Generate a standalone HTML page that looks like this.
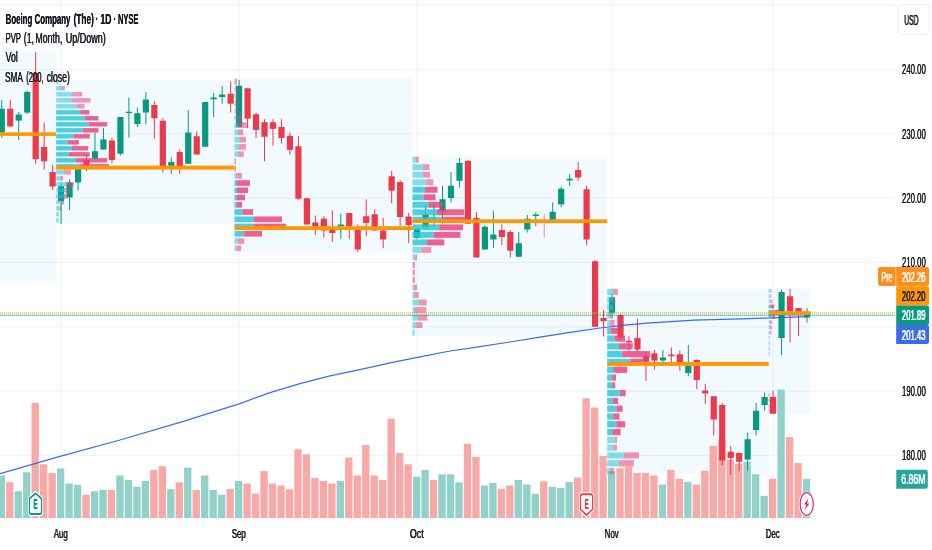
<!DOCTYPE html>
<html><head><meta charset="utf-8"><title>BA chart</title>
<style>html,body{margin:0;padding:0;background:#fff;width:932px;height:550px;overflow:hidden;font-family:"Liberation Sans",sans-serif}</style></head>
<body>
<svg width="932" height="550" viewBox="0 0 932 550" style="position:absolute;left:0;top:0;will-change:transform">
<rect width="932" height="550" fill="#ffffff"/>
<rect x="0" y="4.68" width="895.2" height="1" fill="#f1f2f4"/>
<rect x="0" y="69.00" width="895.2" height="1" fill="#f1f2f4"/>
<rect x="0" y="133.32" width="895.2" height="1" fill="#f1f2f4"/>
<rect x="0" y="197.64" width="895.2" height="1" fill="#f1f2f4"/>
<rect x="0" y="261.96" width="895.2" height="1" fill="#f1f2f4"/>
<rect x="0" y="326.28" width="895.2" height="1" fill="#f1f2f4"/>
<rect x="0" y="390.60" width="895.2" height="1" fill="#f1f2f4"/>
<rect x="0" y="454.92" width="895.2" height="1" fill="#f1f2f4"/>
<rect x="60.60" y="0" width="1" height="521" fill="#f1f2f4"/>
<rect x="238.60" y="0" width="1" height="521" fill="#f1f2f4"/>
<rect x="416.59" y="0" width="1" height="521" fill="#f1f2f4"/>
<rect x="611.54" y="0" width="1" height="521" fill="#f1f2f4"/>
<rect x="772.58" y="0" width="1" height="521" fill="#f1f2f4"/>
<rect x="0" y="51" width="56.2" height="231.7" fill="rgb(30,170,230)" fill-opacity="0.055"/>
<rect x="56.20" y="80.60" width="178.30" height="143.15" fill="rgb(30,170,230)" fill-opacity="0.055"/>
<rect x="234.50" y="78.00" width="178.00" height="173.75" fill="rgb(30,170,230)" fill-opacity="0.055"/>
<rect x="412.50" y="156.25" width="194.70" height="180.50" fill="rgb(30,170,230)" fill-opacity="0.055"/>
<rect x="607.20" y="288.80" width="161.55" height="185.70" fill="rgb(30,170,230)" fill-opacity="0.055"/>
<rect x="768.75" y="288.8" width="41.9" height="124.9" fill="rgb(30,170,230)" fill-opacity="0.055"/>
<rect x="-2.38" y="475.50" width="7.35" height="42.50" fill="#92d1c9"/>
<rect x="6.09" y="482.25" width="7.35" height="35.75" fill="#f7a9a7"/>
<rect x="14.57" y="491.25" width="7.35" height="26.75" fill="#92d1c9"/>
<rect x="23.05" y="472.25" width="7.35" height="45.75" fill="#92d1c9"/>
<rect x="31.52" y="403.00" width="7.35" height="115.00" fill="#f7a9a7"/>
<rect x="40.00" y="464.25" width="7.35" height="53.75" fill="#f7a9a7"/>
<rect x="48.47" y="473.00" width="7.35" height="45.00" fill="#f7a9a7"/>
<rect x="56.95" y="468.50" width="7.35" height="49.50" fill="#92d1c9"/>
<rect x="65.43" y="483.50" width="7.35" height="34.50" fill="#92d1c9"/>
<rect x="73.90" y="484.75" width="7.35" height="33.25" fill="#92d1c9"/>
<rect x="82.38" y="494.75" width="7.35" height="23.25" fill="#f7a9a7"/>
<rect x="90.85" y="491.25" width="7.35" height="26.75" fill="#92d1c9"/>
<rect x="99.33" y="490.00" width="7.35" height="28.00" fill="#92d1c9"/>
<rect x="107.81" y="490.00" width="7.35" height="28.00" fill="#f7a9a7"/>
<rect x="116.28" y="475.50" width="7.35" height="42.50" fill="#92d1c9"/>
<rect x="124.76" y="480.00" width="7.35" height="38.00" fill="#92d1c9"/>
<rect x="133.23" y="486.75" width="7.35" height="31.25" fill="#92d1c9"/>
<rect x="141.71" y="481.00" width="7.35" height="37.00" fill="#92d1c9"/>
<rect x="150.19" y="470.00" width="7.35" height="48.00" fill="#f7a9a7"/>
<rect x="158.66" y="466.25" width="7.35" height="51.75" fill="#f7a9a7"/>
<rect x="167.14" y="489.25" width="7.35" height="28.75" fill="#92d1c9"/>
<rect x="175.61" y="482.25" width="7.35" height="35.75" fill="#f7a9a7"/>
<rect x="184.09" y="467.50" width="7.35" height="50.50" fill="#92d1c9"/>
<rect x="192.57" y="490.00" width="7.35" height="28.00" fill="#f7a9a7"/>
<rect x="201.04" y="475.50" width="7.35" height="42.50" fill="#92d1c9"/>
<rect x="209.52" y="490.00" width="7.35" height="28.00" fill="#92d1c9"/>
<rect x="217.99" y="494.75" width="7.35" height="23.25" fill="#92d1c9"/>
<rect x="226.47" y="489.00" width="7.35" height="29.00" fill="#f7a9a7"/>
<rect x="234.95" y="481.00" width="7.35" height="37.00" fill="#92d1c9"/>
<rect x="243.42" y="483.50" width="7.35" height="34.50" fill="#f7a9a7"/>
<rect x="251.90" y="493.50" width="7.35" height="24.50" fill="#f7a9a7"/>
<rect x="260.37" y="471.00" width="7.35" height="47.00" fill="#f7a9a7"/>
<rect x="268.85" y="483.50" width="7.35" height="34.50" fill="#f7a9a7"/>
<rect x="277.33" y="485.50" width="7.35" height="32.50" fill="#f7a9a7"/>
<rect x="285.80" y="489.25" width="7.35" height="28.75" fill="#f7a9a7"/>
<rect x="294.28" y="449.25" width="7.35" height="68.75" fill="#f7a9a7"/>
<rect x="302.75" y="454.25" width="7.35" height="63.75" fill="#f7a9a7"/>
<rect x="311.23" y="478.00" width="7.35" height="40.00" fill="#f7a9a7"/>
<rect x="319.71" y="481.00" width="7.35" height="37.00" fill="#f7a9a7"/>
<rect x="328.18" y="483.50" width="7.35" height="34.50" fill="#f7a9a7"/>
<rect x="336.66" y="481.00" width="7.35" height="37.00" fill="#92d1c9"/>
<rect x="345.13" y="457.50" width="7.35" height="60.50" fill="#f7a9a7"/>
<rect x="353.61" y="475.50" width="7.35" height="42.50" fill="#f7a9a7"/>
<rect x="362.09" y="445.00" width="7.35" height="73.00" fill="#f7a9a7"/>
<rect x="370.56" y="475.50" width="7.35" height="42.50" fill="#f7a9a7"/>
<rect x="379.04" y="480.00" width="7.35" height="38.00" fill="#f7a9a7"/>
<rect x="387.51" y="418.75" width="7.35" height="99.25" fill="#f7a9a7"/>
<rect x="395.99" y="453.00" width="7.35" height="65.00" fill="#f7a9a7"/>
<rect x="404.47" y="464.25" width="7.35" height="53.75" fill="#f7a9a7"/>
<rect x="412.94" y="476.75" width="7.35" height="41.25" fill="#92d1c9"/>
<rect x="421.42" y="470.00" width="7.35" height="48.00" fill="#92d1c9"/>
<rect x="429.89" y="480.00" width="7.35" height="38.00" fill="#f7a9a7"/>
<rect x="438.37" y="474.25" width="7.35" height="43.75" fill="#92d1c9"/>
<rect x="446.85" y="474.25" width="7.35" height="43.75" fill="#92d1c9"/>
<rect x="455.32" y="482.25" width="7.35" height="35.75" fill="#92d1c9"/>
<rect x="463.80" y="443.75" width="7.35" height="74.25" fill="#f7a9a7"/>
<rect x="472.27" y="457.00" width="7.35" height="61.00" fill="#f7a9a7"/>
<rect x="480.75" y="485.50" width="7.35" height="32.50" fill="#92d1c9"/>
<rect x="489.23" y="483.00" width="7.35" height="35.00" fill="#92d1c9"/>
<rect x="497.70" y="488.75" width="7.35" height="29.25" fill="#f7a9a7"/>
<rect x="506.18" y="485.50" width="7.35" height="32.50" fill="#f7a9a7"/>
<rect x="514.65" y="480.00" width="7.35" height="38.00" fill="#92d1c9"/>
<rect x="523.13" y="484.50" width="7.35" height="33.50" fill="#92d1c9"/>
<rect x="531.61" y="493.75" width="7.35" height="24.25" fill="#92d1c9"/>
<rect x="540.08" y="481.25" width="7.35" height="36.75" fill="#f7a9a7"/>
<rect x="548.56" y="486.75" width="7.35" height="31.25" fill="#92d1c9"/>
<rect x="557.03" y="488.00" width="7.35" height="30.00" fill="#92d1c9"/>
<rect x="565.51" y="482.00" width="7.35" height="36.00" fill="#92d1c9"/>
<rect x="573.99" y="477.50" width="7.35" height="40.50" fill="#f7a9a7"/>
<rect x="582.46" y="398.25" width="7.35" height="119.75" fill="#f7a9a7"/>
<rect x="590.94" y="407.50" width="7.35" height="110.50" fill="#f7a9a7"/>
<rect x="599.41" y="456.00" width="7.35" height="62.00" fill="#f7a9a7"/>
<rect x="607.89" y="471.25" width="7.35" height="46.75" fill="#92d1c9"/>
<rect x="616.37" y="468.40" width="7.35" height="49.60" fill="#f7a9a7"/>
<rect x="624.84" y="466.25" width="7.35" height="51.75" fill="#f7a9a7"/>
<rect x="633.32" y="473.00" width="7.35" height="45.00" fill="#f7a9a7"/>
<rect x="641.79" y="473.00" width="7.35" height="45.00" fill="#f7a9a7"/>
<rect x="650.27" y="475.50" width="7.35" height="42.50" fill="#f7a9a7"/>
<rect x="658.75" y="484.50" width="7.35" height="33.50" fill="#92d1c9"/>
<rect x="667.22" y="470.00" width="7.35" height="48.00" fill="#f7a9a7"/>
<rect x="675.70" y="478.75" width="7.35" height="39.25" fill="#f7a9a7"/>
<rect x="684.17" y="482.00" width="7.35" height="36.00" fill="#92d1c9"/>
<rect x="692.65" y="484.50" width="7.35" height="33.50" fill="#f7a9a7"/>
<rect x="701.13" y="470.75" width="7.35" height="47.25" fill="#f7a9a7"/>
<rect x="709.60" y="445.75" width="7.35" height="72.25" fill="#f7a9a7"/>
<rect x="718.08" y="440.00" width="7.35" height="78.00" fill="#f7a9a7"/>
<rect x="726.55" y="459.50" width="7.35" height="58.50" fill="#f7a9a7"/>
<rect x="735.03" y="463.75" width="7.35" height="54.25" fill="#f7a9a7"/>
<rect x="743.51" y="462.00" width="7.35" height="56.00" fill="#92d1c9"/>
<rect x="751.98" y="474.25" width="7.35" height="43.75" fill="#92d1c9"/>
<rect x="760.46" y="495.75" width="7.35" height="22.25" fill="#92d1c9"/>
<rect x="768.93" y="478.75" width="7.35" height="39.25" fill="#f7a9a7"/>
<rect x="777.41" y="389.50" width="7.35" height="128.50" fill="#92d1c9"/>
<rect x="785.89" y="437.00" width="7.35" height="81.00" fill="#f7a9a7"/>
<rect x="794.36" y="463.00" width="7.35" height="55.00" fill="#f7a9a7"/>
<rect x="802.84" y="478.75" width="7.35" height="39.25" fill="#92d1c9"/>
<rect x="1.27" y="100.00" width="1" height="37.70" fill="#089981"/>
<rect x="-1.33" y="108.75" width="6.2" height="23.75" fill="#089981"/>
<rect x="9.74" y="99.70" width="1" height="26.80" fill="#ea3a4c"/>
<rect x="7.14" y="108.75" width="6.2" height="17.75" fill="#ea3a4c"/>
<rect x="18.22" y="112.00" width="1" height="28.00" fill="#089981"/>
<rect x="15.62" y="114.50" width="6.2" height="6.10" fill="#089981"/>
<rect x="26.70" y="90.60" width="1" height="23.30" fill="#089981"/>
<rect x="24.10" y="91.90" width="6.2" height="20.70" fill="#089981"/>
<rect x="35.17" y="52.20" width="1" height="111.55" fill="#ea3a4c"/>
<rect x="32.57" y="73.00" width="6.2" height="86.25" fill="#ea3a4c"/>
<rect x="43.65" y="122.50" width="1" height="47.00" fill="#ea3a4c"/>
<rect x="41.05" y="147.00" width="6.2" height="14.25" fill="#ea3a4c"/>
<rect x="52.12" y="165.00" width="1" height="25.00" fill="#ea3a4c"/>
<rect x="49.52" y="172.00" width="6.2" height="14.50" fill="#ea3a4c"/>
<rect x="60.60" y="182.50" width="1" height="41.25" fill="#089981"/>
<rect x="58.00" y="186.25" width="6.2" height="15.00" fill="#089981"/>
<rect x="69.08" y="179.50" width="1" height="30.50" fill="#089981"/>
<rect x="66.48" y="182.50" width="6.2" height="15.00" fill="#089981"/>
<rect x="77.55" y="166.00" width="1" height="24.50" fill="#089981"/>
<rect x="74.95" y="169.00" width="6.2" height="13.50" fill="#089981"/>
<rect x="86.03" y="155.00" width="1" height="16.25" fill="#ea3a4c"/>
<rect x="83.43" y="160.00" width="6.2" height="5.00" fill="#ea3a4c"/>
<rect x="94.50" y="132.50" width="1" height="26.25" fill="#089981"/>
<rect x="91.90" y="151.25" width="6.2" height="7.50" fill="#089981"/>
<rect x="102.98" y="128.00" width="1" height="21.50" fill="#089981"/>
<rect x="100.38" y="139.50" width="6.2" height="10.00" fill="#089981"/>
<rect x="111.46" y="138.00" width="1" height="25.00" fill="#ea3a4c"/>
<rect x="108.86" y="140.50" width="6.2" height="19.50" fill="#ea3a4c"/>
<rect x="119.93" y="117.00" width="1" height="38.50" fill="#089981"/>
<rect x="117.33" y="117.00" width="6.2" height="36.75" fill="#089981"/>
<rect x="128.41" y="97.50" width="1" height="40.00" fill="#089981"/>
<rect x="125.81" y="111.75" width="6.2" height="1.25" fill="#089981"/>
<rect x="136.88" y="107.50" width="1" height="19.50" fill="#089981"/>
<rect x="134.28" y="113.25" width="6.2" height="10.75" fill="#089981"/>
<rect x="145.36" y="92.00" width="1" height="32.50" fill="#089981"/>
<rect x="142.76" y="99.50" width="6.2" height="13.00" fill="#089981"/>
<rect x="153.84" y="101.25" width="1" height="37.50" fill="#ea3a4c"/>
<rect x="151.24" y="105.00" width="6.2" height="13.25" fill="#ea3a4c"/>
<rect x="162.31" y="118.00" width="1" height="54.50" fill="#ea3a4c"/>
<rect x="159.71" y="120.75" width="6.2" height="45.50" fill="#ea3a4c"/>
<rect x="170.79" y="157.50" width="1" height="16.25" fill="#089981"/>
<rect x="168.19" y="162.00" width="6.2" height="4.25" fill="#089981"/>
<rect x="179.26" y="149.25" width="1" height="24.50" fill="#ea3a4c"/>
<rect x="176.66" y="152.00" width="6.2" height="14.25" fill="#ea3a4c"/>
<rect x="187.74" y="110.00" width="1" height="53.75" fill="#089981"/>
<rect x="185.14" y="132.50" width="6.2" height="31.25" fill="#089981"/>
<rect x="196.22" y="131.25" width="1" height="23.25" fill="#ea3a4c"/>
<rect x="193.62" y="136.25" width="6.2" height="18.25" fill="#ea3a4c"/>
<rect x="204.69" y="102.00" width="1" height="44.75" fill="#089981"/>
<rect x="202.09" y="102.00" width="6.2" height="44.75" fill="#089981"/>
<rect x="213.17" y="93.00" width="1" height="24.00" fill="#089981"/>
<rect x="210.57" y="97.50" width="6.2" height="1.75" fill="#089981"/>
<rect x="221.64" y="85.75" width="1" height="18.00" fill="#089981"/>
<rect x="219.04" y="94.50" width="6.2" height="2.50" fill="#089981"/>
<rect x="230.12" y="81.25" width="1" height="31.25" fill="#ea3a4c"/>
<rect x="227.52" y="93.75" width="6.2" height="10.00" fill="#ea3a4c"/>
<rect x="238.60" y="80.00" width="1" height="47.00" fill="#089981"/>
<rect x="236.00" y="85.75" width="6.2" height="41.25" fill="#089981"/>
<rect x="247.07" y="88.25" width="1" height="40.05" fill="#ea3a4c"/>
<rect x="244.47" y="88.25" width="6.2" height="30.35" fill="#ea3a4c"/>
<rect x="255.55" y="113.00" width="1" height="24.90" fill="#ea3a4c"/>
<rect x="252.95" y="114.30" width="6.2" height="15.60" fill="#ea3a4c"/>
<rect x="264.02" y="119.20" width="1" height="42.05" fill="#ea3a4c"/>
<rect x="261.42" y="122.20" width="6.2" height="14.60" fill="#ea3a4c"/>
<rect x="272.50" y="119.20" width="1" height="26.40" fill="#ea3a4c"/>
<rect x="269.90" y="122.20" width="6.2" height="6.70" fill="#ea3a4c"/>
<rect x="280.98" y="119.20" width="1" height="24.30" fill="#ea3a4c"/>
<rect x="278.38" y="127.00" width="6.2" height="11.00" fill="#ea3a4c"/>
<rect x="289.45" y="132.50" width="1" height="22.00" fill="#ea3a4c"/>
<rect x="286.85" y="135.80" width="6.2" height="14.00" fill="#ea3a4c"/>
<rect x="297.93" y="135.90" width="1" height="64.10" fill="#ea3a4c"/>
<rect x="295.33" y="146.25" width="6.2" height="52.50" fill="#ea3a4c"/>
<rect x="306.40" y="198.25" width="1" height="26.25" fill="#ea3a4c"/>
<rect x="303.80" y="198.25" width="6.2" height="26.25" fill="#ea3a4c"/>
<rect x="314.88" y="215.50" width="1" height="19.50" fill="#ea3a4c"/>
<rect x="312.28" y="222.50" width="6.2" height="5.00" fill="#ea3a4c"/>
<rect x="323.36" y="216.25" width="1" height="21.25" fill="#ea3a4c"/>
<rect x="320.76" y="218.75" width="6.2" height="11.75" fill="#ea3a4c"/>
<rect x="331.83" y="210.50" width="1" height="31.25" fill="#ea3a4c"/>
<rect x="329.23" y="229.80" width="6.2" height="3.20" fill="#ea3a4c"/>
<rect x="340.31" y="213.75" width="1" height="25.00" fill="#089981"/>
<rect x="337.71" y="224.50" width="6.2" height="1.75" fill="#089981"/>
<rect x="348.78" y="213.00" width="1" height="25.75" fill="#ea3a4c"/>
<rect x="346.18" y="213.00" width="6.2" height="13.25" fill="#ea3a4c"/>
<rect x="357.26" y="224.50" width="1" height="27.50" fill="#ea3a4c"/>
<rect x="354.66" y="229.50" width="6.2" height="20.00" fill="#ea3a4c"/>
<rect x="365.74" y="199.25" width="1" height="37.00" fill="#ea3a4c"/>
<rect x="363.14" y="216.25" width="6.2" height="6.75" fill="#ea3a4c"/>
<rect x="374.21" y="209.25" width="1" height="21.25" fill="#ea3a4c"/>
<rect x="371.61" y="214.25" width="6.2" height="16.25" fill="#ea3a4c"/>
<rect x="382.69" y="218.00" width="1" height="30.25" fill="#ea3a4c"/>
<rect x="380.09" y="230.50" width="6.2" height="9.00" fill="#ea3a4c"/>
<rect x="391.16" y="170.75" width="1" height="32.50" fill="#ea3a4c"/>
<rect x="388.56" y="176.25" width="6.2" height="14.50" fill="#ea3a4c"/>
<rect x="399.64" y="180.00" width="1" height="46.00" fill="#ea3a4c"/>
<rect x="397.04" y="182.00" width="6.2" height="35.00" fill="#ea3a4c"/>
<rect x="408.12" y="212.75" width="1" height="30.25" fill="#ea3a4c"/>
<rect x="405.52" y="216.50" width="6.2" height="8.50" fill="#ea3a4c"/>
<rect x="416.59" y="227.00" width="1" height="12.00" fill="#089981"/>
<rect x="413.99" y="229.00" width="6.2" height="9.00" fill="#089981"/>
<rect x="425.07" y="205.75" width="1" height="21.75" fill="#089981"/>
<rect x="422.47" y="214.50" width="6.2" height="13.00" fill="#089981"/>
<rect x="433.54" y="205.00" width="1" height="22.00" fill="#089981"/>
<rect x="430.94" y="218.50" width="6.2" height="1.50" fill="#089981"/>
<rect x="442.02" y="185.75" width="1" height="37.75" fill="#089981"/>
<rect x="439.42" y="199.25" width="6.2" height="12.00" fill="#089981"/>
<rect x="450.50" y="172.00" width="1" height="30.50" fill="#089981"/>
<rect x="447.90" y="185.75" width="6.2" height="12.25" fill="#089981"/>
<rect x="458.97" y="158.00" width="1" height="29.50" fill="#089981"/>
<rect x="456.37" y="163.00" width="6.2" height="17.75" fill="#089981"/>
<rect x="467.45" y="160.75" width="1" height="63.00" fill="#ea3a4c"/>
<rect x="464.85" y="160.75" width="6.2" height="63.00" fill="#ea3a4c"/>
<rect x="475.92" y="212.00" width="1" height="45.50" fill="#ea3a4c"/>
<rect x="473.32" y="218.00" width="6.2" height="39.50" fill="#ea3a4c"/>
<rect x="484.40" y="225.50" width="1" height="24.00" fill="#089981"/>
<rect x="481.80" y="226.75" width="6.2" height="22.75" fill="#089981"/>
<rect x="492.88" y="210.75" width="1" height="37.25" fill="#089981"/>
<rect x="490.28" y="234.50" width="6.2" height="5.00" fill="#089981"/>
<rect x="501.35" y="224.50" width="1" height="20.50" fill="#ea3a4c"/>
<rect x="498.75" y="230.00" width="6.2" height="7.00" fill="#ea3a4c"/>
<rect x="509.83" y="230.00" width="1" height="27.50" fill="#ea3a4c"/>
<rect x="507.23" y="232.00" width="6.2" height="18.75" fill="#ea3a4c"/>
<rect x="518.30" y="232.00" width="1" height="24.75" fill="#089981"/>
<rect x="515.70" y="243.25" width="6.2" height="13.50" fill="#089981"/>
<rect x="526.78" y="215.00" width="1" height="17.50" fill="#089981"/>
<rect x="524.18" y="218.75" width="6.2" height="10.75" fill="#089981"/>
<rect x="535.26" y="212.50" width="1" height="13.75" fill="#089981"/>
<rect x="532.66" y="214.50" width="6.2" height="1.50" fill="#089981"/>
<rect x="543.73" y="213.75" width="1" height="23.75" fill="#ea3a4c" fill-opacity="0.55"/>
<rect x="541.13" y="221.00" width="6.2" height="1.00" fill="#ea3a4c"/>
<rect x="552.21" y="202.50" width="1" height="17.50" fill="#089981"/>
<rect x="549.61" y="211.75" width="6.2" height="8.25" fill="#089981"/>
<rect x="560.68" y="186.75" width="1" height="20.25" fill="#089981"/>
<rect x="558.08" y="188.75" width="6.2" height="15.75" fill="#089981"/>
<rect x="569.16" y="174.25" width="1" height="11.50" fill="#089981"/>
<rect x="566.56" y="178.75" width="6.2" height="1.75" fill="#089981"/>
<rect x="577.64" y="162.00" width="1" height="18.75" fill="#ea3a4c"/>
<rect x="575.04" y="170.00" width="6.2" height="7.50" fill="#ea3a4c"/>
<rect x="586.11" y="185.75" width="1" height="59.75" fill="#ea3a4c"/>
<rect x="583.51" y="189.25" width="6.2" height="50.25" fill="#ea3a4c"/>
<rect x="594.59" y="260.00" width="1" height="66.75" fill="#ea3a4c"/>
<rect x="591.99" y="261.25" width="6.2" height="65.50" fill="#ea3a4c"/>
<rect x="603.06" y="310.00" width="1" height="26.50" fill="#ea3a4c"/>
<rect x="600.46" y="318.00" width="6.2" height="3.25" fill="#ea3a4c"/>
<rect x="611.54" y="293.75" width="1" height="25.00" fill="#089981"/>
<rect x="608.94" y="297.50" width="6.2" height="15.75" fill="#089981"/>
<rect x="620.02" y="313.75" width="1" height="26.25" fill="#ea3a4c"/>
<rect x="617.42" y="315.00" width="6.2" height="22.75" fill="#ea3a4c"/>
<rect x="628.49" y="336.25" width="1" height="13.75" fill="#ea3a4c"/>
<rect x="625.89" y="340.75" width="6.2" height="1.75" fill="#ea3a4c"/>
<rect x="636.97" y="318.75" width="1" height="32.50" fill="#ea3a4c"/>
<rect x="634.37" y="338.00" width="6.2" height="11.50" fill="#ea3a4c"/>
<rect x="645.44" y="353.75" width="1" height="27.00" fill="#ea3a4c"/>
<rect x="642.84" y="356.25" width="6.2" height="5.00" fill="#ea3a4c"/>
<rect x="653.92" y="350.00" width="1" height="19.50" fill="#ea3a4c"/>
<rect x="651.32" y="353.25" width="6.2" height="7.25" fill="#ea3a4c"/>
<rect x="662.40" y="350.00" width="1" height="12.00" fill="#089981"/>
<rect x="659.80" y="357.50" width="6.2" height="3.00" fill="#089981"/>
<rect x="670.87" y="347.50" width="1" height="18.75" fill="#ea3a4c"/>
<rect x="668.27" y="354.50" width="6.2" height="1.75" fill="#ea3a4c"/>
<rect x="679.35" y="350.50" width="1" height="20.25" fill="#ea3a4c"/>
<rect x="676.75" y="354.25" width="6.2" height="7.75" fill="#ea3a4c"/>
<rect x="687.82" y="345.00" width="1" height="31.25" fill="#089981"/>
<rect x="685.22" y="365.50" width="6.2" height="7.50" fill="#089981"/>
<rect x="696.30" y="359.25" width="1" height="29.75" fill="#ea3a4c"/>
<rect x="693.70" y="360.00" width="6.2" height="20.00" fill="#ea3a4c"/>
<rect x="704.78" y="383.75" width="1" height="20.00" fill="#ea3a4c"/>
<rect x="702.18" y="390.50" width="6.2" height="3.00" fill="#ea3a4c"/>
<rect x="713.25" y="396.25" width="1" height="39.25" fill="#ea3a4c"/>
<rect x="710.65" y="396.25" width="6.2" height="23.25" fill="#ea3a4c"/>
<rect x="721.73" y="403.00" width="1" height="62.00" fill="#ea3a4c"/>
<rect x="719.13" y="405.00" width="6.2" height="55.50" fill="#ea3a4c"/>
<rect x="730.20" y="446.25" width="1" height="28.75" fill="#ea3a4c"/>
<rect x="727.60" y="451.75" width="6.2" height="6.25" fill="#ea3a4c"/>
<rect x="738.68" y="453.00" width="1" height="18.25" fill="#ea3a4c"/>
<rect x="736.08" y="453.00" width="6.2" height="8.75" fill="#ea3a4c"/>
<rect x="747.16" y="432.50" width="1" height="38.00" fill="#089981"/>
<rect x="744.56" y="439.25" width="6.2" height="20.25" fill="#089981"/>
<rect x="755.63" y="403.00" width="1" height="32.50" fill="#089981"/>
<rect x="753.03" y="410.75" width="6.2" height="19.25" fill="#089981"/>
<rect x="764.11" y="392.50" width="1" height="18.25" fill="#089981"/>
<rect x="761.51" y="397.00" width="6.2" height="8.00" fill="#089981"/>
<rect x="772.58" y="390.50" width="1" height="23.25" fill="#ea3a4c"/>
<rect x="769.98" y="397.00" width="6.2" height="16.75" fill="#ea3a4c"/>
<rect x="781.06" y="289.50" width="1" height="65.50" fill="#089981"/>
<rect x="778.46" y="292.00" width="6.2" height="46.00" fill="#089981"/>
<rect x="789.54" y="288.75" width="1" height="53.75" fill="#ea3a4c"/>
<rect x="786.94" y="296.25" width="6.2" height="15.00" fill="#ea3a4c"/>
<rect x="798.01" y="308.00" width="1" height="28.25" fill="#ea3a4c"/>
<rect x="795.41" y="308.00" width="6.2" height="4.50" fill="#ea3a4c"/>
<rect x="806.49" y="308.00" width="1" height="14.50" fill="#089981"/>
<rect x="803.89" y="312.50" width="6.2" height="5.00" fill="#089981"/>
<polyline points="-3,474.5 0,473.6 60,456.3 120,440 180,422.3 240,403.6 270,392.6 300,383.6 330,375.9 360,369.7 390,362.9 420,356.8 450,351 480,346.6 510,342 540,337.2 570,332.3 600,328.0 625,325.2 647,323.1 694,320.2 742,318.9 765,318.1 807,316.7" fill="none" stroke="#2a60f0" stroke-width="1.2" stroke-opacity="0.92" stroke-linejoin="round"/>
<rect x="56.20" y="80.10" width="1.20" height="4.40" fill="rgb(38,198,218)" fill-opacity="0.55"/>
<rect x="57.40" y="80.10" width="1.00" height="4.40" fill="rgb(236,64,122)" fill-opacity="0.55"/>
<rect x="56.20" y="86.10" width="5.60" height="4.40" fill="rgb(38,198,218)" fill-opacity="0.55"/>
<rect x="61.80" y="86.10" width="3.00" height="4.40" fill="rgb(236,64,122)" fill-opacity="0.55"/>
<rect x="56.20" y="92.10" width="16.00" height="4.40" fill="rgb(38,198,218)" fill-opacity="0.55"/>
<rect x="72.20" y="92.10" width="10.00" height="4.40" fill="rgb(236,64,122)" fill-opacity="0.55"/>
<rect x="56.20" y="98.10" width="15.00" height="4.40" fill="rgb(38,198,218)" fill-opacity="0.55"/>
<rect x="71.20" y="98.10" width="19.30" height="4.40" fill="rgb(236,64,122)" fill-opacity="0.55"/>
<rect x="56.20" y="104.10" width="20.25" height="4.40" fill="rgb(38,198,218)" fill-opacity="0.55"/>
<rect x="76.45" y="104.10" width="8.00" height="4.40" fill="rgb(236,64,122)" fill-opacity="0.55"/>
<rect x="56.20" y="110.10" width="24.00" height="4.40" fill="rgb(38,198,218)" fill-opacity="0.82"/>
<rect x="80.20" y="110.10" width="9.00" height="4.40" fill="rgb(236,64,122)" fill-opacity="0.82"/>
<rect x="56.20" y="116.10" width="28.50" height="4.40" fill="rgb(38,198,218)" fill-opacity="0.82"/>
<rect x="84.70" y="116.10" width="13.75" height="4.40" fill="rgb(236,64,122)" fill-opacity="0.82"/>
<rect x="56.20" y="122.10" width="32.75" height="4.40" fill="rgb(38,198,218)" fill-opacity="0.82"/>
<rect x="88.95" y="122.10" width="18.25" height="4.40" fill="rgb(236,64,122)" fill-opacity="0.82"/>
<rect x="56.20" y="128.10" width="26.50" height="4.40" fill="rgb(38,198,218)" fill-opacity="0.82"/>
<rect x="82.70" y="128.10" width="15.75" height="4.40" fill="rgb(236,64,122)" fill-opacity="0.82"/>
<rect x="56.20" y="134.10" width="17.75" height="4.40" fill="rgb(38,198,218)" fill-opacity="0.82"/>
<rect x="73.95" y="134.10" width="15.75" height="4.40" fill="rgb(236,64,122)" fill-opacity="0.82"/>
<rect x="56.20" y="140.10" width="11.50" height="4.40" fill="rgb(38,198,218)" fill-opacity="0.82"/>
<rect x="67.70" y="140.10" width="11.25" height="4.40" fill="rgb(236,64,122)" fill-opacity="0.82"/>
<rect x="56.20" y="146.10" width="15.75" height="4.40" fill="rgb(38,198,218)" fill-opacity="0.82"/>
<rect x="71.95" y="146.10" width="16.25" height="4.40" fill="rgb(236,64,122)" fill-opacity="0.82"/>
<rect x="56.20" y="152.10" width="12.25" height="4.40" fill="rgb(38,198,218)" fill-opacity="0.82"/>
<rect x="68.45" y="152.10" width="21.25" height="4.40" fill="rgb(236,64,122)" fill-opacity="0.82"/>
<rect x="56.20" y="158.10" width="19.75" height="4.40" fill="rgb(38,198,218)" fill-opacity="0.82"/>
<rect x="75.95" y="158.10" width="31.25" height="4.40" fill="rgb(236,64,122)" fill-opacity="0.82"/>
<rect x="56.20" y="164.10" width="23.50" height="4.40" fill="rgb(38,198,218)" fill-opacity="0.82"/>
<rect x="79.70" y="164.10" width="29.25" height="4.40" fill="rgb(236,64,122)" fill-opacity="0.82"/>
<rect x="56.20" y="170.10" width="7.75" height="4.40" fill="rgb(38,198,218)" fill-opacity="0.55"/>
<rect x="63.95" y="170.10" width="7.00" height="4.40" fill="rgb(236,64,122)" fill-opacity="0.55"/>
<rect x="56.20" y="176.10" width="4.00" height="4.40" fill="rgb(38,198,218)" fill-opacity="0.55"/>
<rect x="60.20" y="176.10" width="3.00" height="4.40" fill="rgb(236,64,122)" fill-opacity="0.55"/>
<rect x="56.20" y="182.10" width="9.50" height="4.40" fill="rgb(38,198,218)" fill-opacity="0.55"/>
<rect x="65.70" y="182.10" width="8.00" height="4.40" fill="rgb(236,64,122)" fill-opacity="0.55"/>
<rect x="56.20" y="188.10" width="8.50" height="4.40" fill="rgb(38,198,218)" fill-opacity="0.55"/>
<rect x="64.70" y="188.10" width="3.50" height="4.40" fill="rgb(236,64,122)" fill-opacity="0.55"/>
<rect x="56.20" y="194.10" width="7.75" height="4.40" fill="rgb(38,198,218)" fill-opacity="0.55"/>
<rect x="63.95" y="194.10" width="3.75" height="4.40" fill="rgb(236,64,122)" fill-opacity="0.55"/>
<rect x="56.20" y="200.10" width="5.25" height="4.40" fill="rgb(38,198,218)" fill-opacity="0.55"/>
<rect x="61.45" y="200.10" width="2.50" height="4.40" fill="rgb(236,64,122)" fill-opacity="0.55"/>
<rect x="56.20" y="206.10" width="4.00" height="4.40" fill="rgb(38,198,218)" fill-opacity="0.55"/>
<rect x="60.20" y="206.10" width="1.50" height="4.40" fill="rgb(236,64,122)" fill-opacity="0.55"/>
<rect x="56.20" y="212.10" width="2.50" height="4.40" fill="rgb(38,198,218)" fill-opacity="0.55"/>
<rect x="56.20" y="218.10" width="2.50" height="4.40" fill="rgb(38,198,218)" fill-opacity="0.55"/>
<rect x="234.50" y="78.90" width="2.40" height="5.64" fill="rgb(236,64,122)" fill-opacity="0.55"/>
<rect x="234.50" y="86.14" width="1.50" height="5.64" fill="rgb(38,198,218)" fill-opacity="0.55"/>
<rect x="236.00" y="86.14" width="1.70" height="5.64" fill="rgb(236,64,122)" fill-opacity="0.55"/>
<rect x="234.50" y="93.38" width="1.50" height="5.64" fill="rgb(38,198,218)" fill-opacity="0.55"/>
<rect x="236.00" y="93.38" width="1.70" height="5.64" fill="rgb(236,64,122)" fill-opacity="0.55"/>
<rect x="234.50" y="100.62" width="1.50" height="5.64" fill="rgb(38,198,218)" fill-opacity="0.55"/>
<rect x="236.00" y="100.62" width="1.70" height="5.64" fill="rgb(236,64,122)" fill-opacity="0.55"/>
<rect x="234.50" y="107.86" width="1.50" height="5.64" fill="rgb(38,198,218)" fill-opacity="0.55"/>
<rect x="236.00" y="107.86" width="1.70" height="5.64" fill="rgb(236,64,122)" fill-opacity="0.55"/>
<rect x="234.50" y="115.10" width="2.75" height="5.64" fill="rgb(38,198,218)" fill-opacity="0.55"/>
<rect x="237.25" y="115.10" width="4.70" height="5.64" fill="rgb(236,64,122)" fill-opacity="0.55"/>
<rect x="234.50" y="122.34" width="3.60" height="5.64" fill="rgb(38,198,218)" fill-opacity="0.55"/>
<rect x="238.10" y="122.34" width="9.00" height="5.64" fill="rgb(236,64,122)" fill-opacity="0.55"/>
<rect x="234.50" y="129.58" width="3.60" height="5.64" fill="rgb(38,198,218)" fill-opacity="0.55"/>
<rect x="238.10" y="129.58" width="5.20" height="5.64" fill="rgb(236,64,122)" fill-opacity="0.55"/>
<rect x="234.50" y="136.82" width="5.50" height="5.64" fill="rgb(38,198,218)" fill-opacity="0.55"/>
<rect x="240.00" y="136.82" width="6.10" height="5.64" fill="rgb(236,64,122)" fill-opacity="0.55"/>
<rect x="234.50" y="144.06" width="4.30" height="5.64" fill="rgb(38,198,218)" fill-opacity="0.55"/>
<rect x="238.80" y="144.06" width="7.30" height="5.64" fill="rgb(236,64,122)" fill-opacity="0.55"/>
<rect x="234.50" y="151.30" width="4.25" height="5.64" fill="rgb(38,198,218)" fill-opacity="0.55"/>
<rect x="238.75" y="151.30" width="5.00" height="5.64" fill="rgb(236,64,122)" fill-opacity="0.55"/>
<rect x="234.50" y="158.54" width="1.50" height="5.64" fill="rgb(236,64,122)" fill-opacity="0.55"/>
<rect x="234.50" y="165.78" width="1.50" height="5.64" fill="rgb(236,64,122)" fill-opacity="0.55"/>
<rect x="234.50" y="173.01" width="1.25" height="5.64" fill="rgb(38,198,218)" fill-opacity="0.55"/>
<rect x="235.75" y="173.01" width="6.25" height="5.64" fill="rgb(236,64,122)" fill-opacity="0.55"/>
<rect x="234.50" y="180.25" width="2.50" height="5.64" fill="rgb(38,198,218)" fill-opacity="0.82"/>
<rect x="237.00" y="180.25" width="13.00" height="5.64" fill="rgb(236,64,122)" fill-opacity="0.82"/>
<rect x="234.50" y="187.49" width="2.50" height="5.64" fill="rgb(38,198,218)" fill-opacity="0.82"/>
<rect x="237.00" y="187.49" width="11.00" height="5.64" fill="rgb(236,64,122)" fill-opacity="0.82"/>
<rect x="234.50" y="194.73" width="2.00" height="5.64" fill="rgb(38,198,218)" fill-opacity="0.82"/>
<rect x="236.50" y="194.73" width="8.50" height="5.64" fill="rgb(236,64,122)" fill-opacity="0.82"/>
<rect x="234.50" y="201.97" width="2.50" height="5.64" fill="rgb(38,198,218)" fill-opacity="0.82"/>
<rect x="237.00" y="201.97" width="5.00" height="5.64" fill="rgb(236,64,122)" fill-opacity="0.82"/>
<rect x="234.50" y="209.21" width="8.00" height="5.64" fill="rgb(38,198,218)" fill-opacity="0.82"/>
<rect x="242.50" y="209.21" width="10.50" height="5.64" fill="rgb(236,64,122)" fill-opacity="0.82"/>
<rect x="234.50" y="216.45" width="19.25" height="5.64" fill="rgb(38,198,218)" fill-opacity="0.82"/>
<rect x="253.75" y="216.45" width="28.25" height="5.64" fill="rgb(236,64,122)" fill-opacity="0.82"/>
<rect x="234.50" y="223.69" width="19.25" height="5.64" fill="rgb(38,198,218)" fill-opacity="0.82"/>
<rect x="253.75" y="223.69" width="32.50" height="5.64" fill="rgb(236,64,122)" fill-opacity="0.82"/>
<rect x="234.50" y="230.93" width="9.75" height="5.64" fill="rgb(38,198,218)" fill-opacity="0.82"/>
<rect x="244.25" y="230.93" width="17.75" height="5.64" fill="rgb(236,64,122)" fill-opacity="0.82"/>
<rect x="234.50" y="238.17" width="3.50" height="5.64" fill="rgb(38,198,218)" fill-opacity="0.55"/>
<rect x="238.00" y="238.17" width="6.25" height="5.64" fill="rgb(236,64,122)" fill-opacity="0.55"/>
<rect x="234.50" y="245.41" width="2.00" height="5.64" fill="rgb(38,198,218)" fill-opacity="0.55"/>
<rect x="236.50" y="245.41" width="4.75" height="5.64" fill="rgb(236,64,122)" fill-opacity="0.55"/>
<rect x="412.50" y="156.70" width="3.00" height="5.92" fill="rgb(38,198,218)" fill-opacity="0.55"/>
<rect x="415.50" y="156.70" width="3.25" height="5.92" fill="rgb(236,64,122)" fill-opacity="0.55"/>
<rect x="412.50" y="164.22" width="10.50" height="5.92" fill="rgb(38,198,218)" fill-opacity="0.55"/>
<rect x="423.00" y="164.22" width="6.50" height="5.92" fill="rgb(236,64,122)" fill-opacity="0.55"/>
<rect x="412.50" y="171.74" width="10.00" height="5.92" fill="rgb(38,198,218)" fill-opacity="0.55"/>
<rect x="422.50" y="171.74" width="7.50" height="5.92" fill="rgb(236,64,122)" fill-opacity="0.55"/>
<rect x="412.50" y="179.26" width="13.75" height="5.92" fill="rgb(38,198,218)" fill-opacity="0.55"/>
<rect x="426.25" y="179.26" width="7.00" height="5.92" fill="rgb(236,64,122)" fill-opacity="0.55"/>
<rect x="412.50" y="186.78" width="12.50" height="5.92" fill="rgb(38,198,218)" fill-opacity="0.82"/>
<rect x="425.00" y="186.78" width="12.50" height="5.92" fill="rgb(236,64,122)" fill-opacity="0.82"/>
<rect x="412.50" y="194.30" width="11.25" height="5.92" fill="rgb(38,198,218)" fill-opacity="0.82"/>
<rect x="423.75" y="194.30" width="11.75" height="5.92" fill="rgb(236,64,122)" fill-opacity="0.82"/>
<rect x="412.50" y="201.82" width="15.75" height="5.92" fill="rgb(38,198,218)" fill-opacity="0.82"/>
<rect x="428.25" y="201.82" width="14.00" height="5.92" fill="rgb(236,64,122)" fill-opacity="0.82"/>
<rect x="412.50" y="209.34" width="24.50" height="5.92" fill="rgb(38,198,218)" fill-opacity="0.82"/>
<rect x="437.00" y="209.34" width="27.25" height="5.92" fill="rgb(236,64,122)" fill-opacity="0.82"/>
<rect x="412.50" y="216.86" width="30.00" height="5.92" fill="rgb(38,198,218)" fill-opacity="0.82"/>
<rect x="442.50" y="216.86" width="25.00" height="5.92" fill="rgb(236,64,122)" fill-opacity="0.82"/>
<rect x="412.50" y="224.38" width="26.75" height="5.92" fill="rgb(38,198,218)" fill-opacity="0.82"/>
<rect x="439.25" y="224.38" width="23.75" height="5.92" fill="rgb(236,64,122)" fill-opacity="0.82"/>
<rect x="412.50" y="231.90" width="21.25" height="5.92" fill="rgb(38,198,218)" fill-opacity="0.82"/>
<rect x="433.75" y="231.90" width="26.75" height="5.92" fill="rgb(236,64,122)" fill-opacity="0.82"/>
<rect x="412.50" y="239.42" width="14.50" height="5.92" fill="rgb(38,198,218)" fill-opacity="0.82"/>
<rect x="427.00" y="239.42" width="17.25" height="5.92" fill="rgb(236,64,122)" fill-opacity="0.82"/>
<rect x="412.50" y="246.94" width="9.25" height="5.92" fill="rgb(38,198,218)" fill-opacity="0.55"/>
<rect x="421.75" y="246.94" width="9.50" height="5.92" fill="rgb(236,64,122)" fill-opacity="0.55"/>
<rect x="412.50" y="254.46" width="2.00" height="5.92" fill="rgb(38,198,218)" fill-opacity="0.55"/>
<rect x="414.50" y="254.46" width="2.50" height="5.92" fill="rgb(236,64,122)" fill-opacity="0.55"/>
<rect x="412.50" y="261.98" width="2.50" height="5.92" fill="rgb(236,64,122)" fill-opacity="0.55"/>
<rect x="412.50" y="269.50" width="2.50" height="5.92" fill="rgb(236,64,122)" fill-opacity="0.55"/>
<rect x="412.50" y="277.02" width="2.50" height="5.92" fill="rgb(236,64,122)" fill-opacity="0.55"/>
<rect x="412.50" y="284.54" width="1.00" height="5.92" fill="rgb(38,198,218)" fill-opacity="0.55"/>
<rect x="413.50" y="284.54" width="3.50" height="5.92" fill="rgb(236,64,122)" fill-opacity="0.55"/>
<rect x="412.50" y="292.06" width="1.50" height="5.92" fill="rgb(38,198,218)" fill-opacity="0.55"/>
<rect x="414.00" y="292.06" width="4.75" height="5.92" fill="rgb(236,64,122)" fill-opacity="0.55"/>
<rect x="412.50" y="299.58" width="6.25" height="5.92" fill="rgb(38,198,218)" fill-opacity="0.55"/>
<rect x="418.75" y="299.58" width="8.00" height="5.92" fill="rgb(236,64,122)" fill-opacity="0.55"/>
<rect x="412.50" y="307.10" width="2.00" height="5.92" fill="rgb(38,198,218)" fill-opacity="0.55"/>
<rect x="414.50" y="307.10" width="11.75" height="5.92" fill="rgb(236,64,122)" fill-opacity="0.55"/>
<rect x="412.50" y="314.62" width="5.50" height="5.92" fill="rgb(38,198,218)" fill-opacity="0.55"/>
<rect x="418.00" y="314.62" width="9.50" height="5.92" fill="rgb(236,64,122)" fill-opacity="0.55"/>
<rect x="412.50" y="322.14" width="3.75" height="5.92" fill="rgb(38,198,218)" fill-opacity="0.55"/>
<rect x="416.25" y="322.14" width="6.25" height="5.92" fill="rgb(236,64,122)" fill-opacity="0.55"/>
<rect x="412.50" y="329.66" width="2.00" height="5.92" fill="rgb(38,198,218)" fill-opacity="0.55"/>
<rect x="607.20" y="288.75" width="5.80" height="6.19" fill="rgb(38,198,218)" fill-opacity="0.55"/>
<rect x="613.00" y="288.75" width="4.90" height="6.19" fill="rgb(236,64,122)" fill-opacity="0.55"/>
<rect x="607.20" y="296.54" width="6.20" height="6.19" fill="rgb(38,198,218)" fill-opacity="0.55"/>
<rect x="613.40" y="296.54" width="1.50" height="6.19" fill="rgb(236,64,122)" fill-opacity="0.55"/>
<rect x="607.20" y="304.33" width="6.00" height="6.19" fill="rgb(38,198,218)" fill-opacity="0.55"/>
<rect x="613.20" y="304.33" width="0.60" height="6.19" fill="rgb(236,64,122)" fill-opacity="0.55"/>
<rect x="607.20" y="312.12" width="2.20" height="6.19" fill="rgb(38,198,218)" fill-opacity="0.55"/>
<rect x="609.40" y="312.12" width="1.80" height="6.19" fill="rgb(236,64,122)" fill-opacity="0.55"/>
<rect x="607.20" y="319.91" width="3.00" height="6.19" fill="rgb(38,198,218)" fill-opacity="0.55"/>
<rect x="610.20" y="319.91" width="4.40" height="6.19" fill="rgb(236,64,122)" fill-opacity="0.55"/>
<rect x="607.20" y="327.70" width="3.50" height="6.19" fill="rgb(38,198,218)" fill-opacity="0.82"/>
<rect x="610.70" y="327.70" width="7.20" height="6.19" fill="rgb(236,64,122)" fill-opacity="0.82"/>
<rect x="607.20" y="335.49" width="7.25" height="6.19" fill="rgb(38,198,218)" fill-opacity="0.82"/>
<rect x="614.45" y="335.49" width="10.75" height="6.19" fill="rgb(236,64,122)" fill-opacity="0.82"/>
<rect x="607.20" y="343.28" width="11.75" height="6.19" fill="rgb(38,198,218)" fill-opacity="0.82"/>
<rect x="618.95" y="343.28" width="13.75" height="6.19" fill="rgb(236,64,122)" fill-opacity="0.82"/>
<rect x="607.20" y="351.07" width="15.00" height="6.19" fill="rgb(38,198,218)" fill-opacity="0.82"/>
<rect x="622.20" y="351.07" width="28.00" height="6.19" fill="rgb(236,64,122)" fill-opacity="0.82"/>
<rect x="607.20" y="358.86" width="23.00" height="6.19" fill="rgb(38,198,218)" fill-opacity="0.82"/>
<rect x="630.20" y="358.86" width="18.75" height="6.19" fill="rgb(236,64,122)" fill-opacity="0.82"/>
<rect x="607.20" y="366.65" width="6.75" height="6.19" fill="rgb(38,198,218)" fill-opacity="0.82"/>
<rect x="613.95" y="366.65" width="13.25" height="6.19" fill="rgb(236,64,122)" fill-opacity="0.82"/>
<rect x="607.20" y="374.44" width="5.00" height="6.19" fill="rgb(38,198,218)" fill-opacity="0.82"/>
<rect x="612.20" y="374.44" width="3.75" height="6.19" fill="rgb(236,64,122)" fill-opacity="0.82"/>
<rect x="607.20" y="382.23" width="5.00" height="6.19" fill="rgb(38,198,218)" fill-opacity="0.82"/>
<rect x="612.20" y="382.23" width="3.00" height="6.19" fill="rgb(236,64,122)" fill-opacity="0.82"/>
<rect x="607.20" y="390.02" width="12.50" height="6.19" fill="rgb(38,198,218)" fill-opacity="0.82"/>
<rect x="619.70" y="390.02" width="6.00" height="6.19" fill="rgb(236,64,122)" fill-opacity="0.82"/>
<rect x="607.20" y="397.81" width="5.50" height="6.19" fill="rgb(38,198,218)" fill-opacity="0.82"/>
<rect x="612.70" y="397.81" width="5.50" height="6.19" fill="rgb(236,64,122)" fill-opacity="0.82"/>
<rect x="607.20" y="405.60" width="9.25" height="6.19" fill="rgb(38,198,218)" fill-opacity="0.82"/>
<rect x="616.45" y="405.60" width="6.25" height="6.19" fill="rgb(236,64,122)" fill-opacity="0.82"/>
<rect x="607.20" y="413.39" width="6.00" height="6.19" fill="rgb(38,198,218)" fill-opacity="0.82"/>
<rect x="613.20" y="413.39" width="6.25" height="6.19" fill="rgb(236,64,122)" fill-opacity="0.82"/>
<rect x="607.20" y="421.18" width="9.25" height="6.19" fill="rgb(38,198,218)" fill-opacity="0.82"/>
<rect x="616.45" y="421.18" width="8.75" height="6.19" fill="rgb(236,64,122)" fill-opacity="0.82"/>
<rect x="607.20" y="428.97" width="5.00" height="6.19" fill="rgb(38,198,218)" fill-opacity="0.82"/>
<rect x="612.20" y="428.97" width="8.50" height="6.19" fill="rgb(236,64,122)" fill-opacity="0.82"/>
<rect x="607.20" y="436.76" width="7.50" height="6.19" fill="rgb(38,198,218)" fill-opacity="0.55"/>
<rect x="614.70" y="436.76" width="2.25" height="6.19" fill="rgb(236,64,122)" fill-opacity="0.55"/>
<rect x="607.20" y="444.55" width="6.00" height="6.19" fill="rgb(38,198,218)" fill-opacity="0.55"/>
<rect x="613.20" y="444.55" width="3.75" height="6.19" fill="rgb(236,64,122)" fill-opacity="0.55"/>
<rect x="607.20" y="452.34" width="16.75" height="6.19" fill="rgb(38,198,218)" fill-opacity="0.55"/>
<rect x="623.95" y="452.34" width="15.00" height="6.19" fill="rgb(236,64,122)" fill-opacity="0.55"/>
<rect x="607.20" y="460.13" width="11.75" height="6.19" fill="rgb(38,198,218)" fill-opacity="0.55"/>
<rect x="618.95" y="460.13" width="15.00" height="6.19" fill="rgb(236,64,122)" fill-opacity="0.55"/>
<rect x="607.20" y="467.92" width="3.00" height="6.19" fill="rgb(38,198,218)" fill-opacity="0.55"/>
<rect x="610.20" y="467.92" width="3.75" height="6.19" fill="rgb(236,64,122)" fill-opacity="0.55"/>
<rect x="768.6" y="288.90" width="2" height="3.8" fill="rgb(38,198,218)" fill-opacity="0.5"/>
<rect x="770.6" y="288.90" width="0.8" height="3.8" fill="rgb(236,64,122)" fill-opacity="0.5"/>
<rect x="768.6" y="294.13" width="2" height="3.8" fill="rgb(38,198,218)" fill-opacity="0.5"/>
<rect x="770.6" y="294.13" width="0.5" height="3.8" fill="rgb(236,64,122)" fill-opacity="0.5"/>
<rect x="768.6" y="299.36" width="1.8" height="3.8" fill="rgb(38,198,218)" fill-opacity="0.5"/>
<rect x="770.4" y="299.36" width="1.9" height="3.8" fill="rgb(236,64,122)" fill-opacity="0.5"/>
<rect x="768.6" y="304.59" width="1.8" height="3.8" fill="rgb(38,198,218)" fill-opacity="0.8"/>
<rect x="770.4" y="304.59" width="3.9" height="3.8" fill="rgb(236,64,122)" fill-opacity="0.8"/>
<rect x="768.6" y="309.82" width="7.2" height="3.8" fill="rgb(38,198,218)" fill-opacity="0.8"/>
<rect x="775.8000000000001" y="309.82" width="3.9" height="3.8" fill="rgb(236,64,122)" fill-opacity="0.8"/>
<rect x="768.6" y="315.05" width="4" height="3.8" fill="rgb(38,198,218)" fill-opacity="0.8"/>
<rect x="772.6" y="315.05" width="2.6" height="3.8" fill="rgb(236,64,122)" fill-opacity="0.8"/>
<rect x="768.6" y="320.28" width="1.2" height="3.8" fill="rgb(38,198,218)" fill-opacity="0.5"/>
<rect x="769.8000000000001" y="320.28" width="2.4" height="3.8" fill="rgb(236,64,122)" fill-opacity="0.5"/>
<rect x="768.6" y="325.51" width="1.2" height="3.8" fill="rgb(38,198,218)" fill-opacity="0.5"/>
<rect x="769.8000000000001" y="325.51" width="2.2" height="3.8" fill="rgb(236,64,122)" fill-opacity="0.5"/>
<rect x="768.6" y="330.74" width="1.2" height="3.8" fill="rgb(38,198,218)" fill-opacity="0.5"/>
<rect x="769.8000000000001" y="330.74" width="1.5" height="3.8" fill="rgb(236,64,122)" fill-opacity="0.5"/>
<rect x="768.6" y="335.97" width="1.2" height="3.8" fill="rgb(38,198,218)" fill-opacity="0.5"/>
<rect x="768.6" y="341.20" width="1.2" height="3.8" fill="rgb(38,198,218)" fill-opacity="0.5"/>
<rect x="768.6" y="346.43" width="1.2" height="3.8" fill="rgb(38,198,218)" fill-opacity="0.5"/>
<rect x="768.6" y="351.66" width="1.2" height="3.8" fill="rgb(38,198,218)" fill-opacity="0.5"/>
<rect x="768.6" y="393.50" width="0.3" height="3.8" fill="rgb(38,198,218)" fill-opacity="0.5"/>
<rect x="768.9" y="393.50" width="1.0" height="3.8" fill="rgb(236,64,122)" fill-opacity="0.5"/>
<rect x="768.6" y="398.73" width="0.5" height="3.8" fill="rgb(38,198,218)" fill-opacity="0.5"/>
<rect x="769.1" y="398.73" width="1.0" height="3.8" fill="rgb(236,64,122)" fill-opacity="0.5"/>
<rect x="768.6" y="403.96" width="0.3" height="3.8" fill="rgb(38,198,218)" fill-opacity="0.5"/>
<rect x="768.9" y="403.96" width="1.0" height="3.8" fill="rgb(236,64,122)" fill-opacity="0.5"/>
<rect x="768.6" y="409.19" width="0.3" height="3.8" fill="rgb(38,198,218)" fill-opacity="0.5"/>
<rect x="768.9" y="409.19" width="1.0" height="3.8" fill="rgb(236,64,122)" fill-opacity="0.5"/>
<rect x="0" y="132.3" width="55.9" height="3.6" fill="#ff9800"/>
<rect x="56.20" y="165.6" width="178.30" height="4.00" fill="#ff9800"/>
<rect x="234.50" y="226.2" width="178.00" height="3.80" fill="#ff9800"/>
<rect x="412.50" y="219.3" width="194.70" height="3.80" fill="#ff9800"/>
<rect x="607.20" y="362" width="161.55" height="3.90" fill="#ff9800"/>
<rect x="768.75" y="311.2" width="41.9" height="3.8" fill="#ff9800"/>
<line x1="0.3" y1="312.8" x2="894.8000000000001" y2="312.8" stroke="#ff9800" stroke-width="1.2" stroke-dasharray="1,1" stroke-opacity="0.9"/>
<line x1="0.3" y1="314.1" x2="894.8000000000001" y2="314.1" stroke="#26c6da" stroke-width="1.2" stroke-dasharray="1,1" stroke-opacity="0.3"/>
<line x1="0.3" y1="315.3" x2="894.8000000000001" y2="315.3" stroke="#089981" stroke-width="1.2" stroke-dasharray="1,1" stroke-opacity="0.9"/>
<g transform="translate(35.5,0) scale(0.6,1)">
<path d="M-10.1,498.7 L0,493.29999999999995 L10.1,498.7 V511.5 Q10.1,514.0 7.1,514.0 H-7.1 Q-10.1,514.0 -10.1,511.5 Z" fill="#ffffff" stroke="#ffffff" stroke-width="4.6" stroke-linejoin="round"/>
<path d="M-10.1,498.7 L0,493.29999999999995 L10.1,498.7 V511.5 Q10.1,514.0 7.1,514.0 H-7.1 Q-10.1,514.0 -10.1,511.5 Z" fill="#ffffff" stroke="#089981" stroke-width="2" stroke-linejoin="round"/>
<text x="-0.35000000000000003" y="509.29999999999995" text-anchor="middle" font-family="Liberation Sans, sans-serif" font-weight="bold" font-size="14.4" fill="#089981" textLength="6.4" lengthAdjust="spacingAndGlyphs">E</text>
<text x="0.75" y="509.29999999999995" text-anchor="middle" font-family="Liberation Sans, sans-serif" font-weight="bold" font-size="14.4" fill="#089981" textLength="6.4" lengthAdjust="spacingAndGlyphs">E</text>
</g>
<g transform="translate(586.55,0) scale(0.6,1)">
<path d="M-7.1,494.25 H7.1 Q10.1,494.25 10.1,496.75 V509.25 L0,515.15 L-10.1,509.25 V496.75 Q-10.1,494.25 -7.1,494.25 Z" fill="#ffffff" stroke="#ffffff" stroke-width="4.6" stroke-linejoin="round"/>
<path d="M-7.1,494.25 H7.1 Q10.1,494.25 10.1,496.75 V509.25 L0,515.15 L-10.1,509.25 V496.75 Q-10.1,494.25 -7.1,494.25 Z" fill="#ffffff" stroke="#ea3a4c" stroke-width="2" stroke-linejoin="round"/>
<text x="-0.35000000000000003" y="508.95" text-anchor="middle" font-family="Liberation Sans, sans-serif" font-weight="bold" font-size="14.4" fill="#ea3a4c" textLength="6.4" lengthAdjust="spacingAndGlyphs">E</text>
<text x="0.75" y="508.95" text-anchor="middle" font-family="Liberation Sans, sans-serif" font-weight="bold" font-size="14.4" fill="#ea3a4c" textLength="6.4" lengthAdjust="spacingAndGlyphs">E</text>
</g>
<ellipse cx="806.7" cy="504" rx="7.0" ry="11.6" fill="#ffffff" stroke="#ffffff" stroke-width="2"/>
<ellipse cx="806.7" cy="504" rx="6.6" ry="11.3" fill="#ffffff" stroke="#c2185b" stroke-opacity="0.9" stroke-width="1.2"/>
<path d="M808.6,498.2 L804.0,504.6 L806.5,504.6 L804.4,510.2 L809.4,503.6 L806.9,503.6 Z" fill="#d81b60"/>
<text x="5.56" y="23.8" font-family="Liberation Sans, sans-serif" font-size="14" font-weight="bold" fill="#131722" text-anchor="start" textLength="26.64" lengthAdjust="spacingAndGlyphs">Boeing</text>
<text x="5.76" y="23.8" font-family="Liberation Sans, sans-serif" font-size="14" font-weight="bold" fill="#131722" text-anchor="start" textLength="26.64" lengthAdjust="spacingAndGlyphs">Boeing</text>
<text x="34.50" y="23.8" font-family="Liberation Sans, sans-serif" font-size="14" font-weight="bold" fill="#131722" text-anchor="start" textLength="35.8" lengthAdjust="spacingAndGlyphs">Company</text>
<text x="34.70" y="23.8" font-family="Liberation Sans, sans-serif" font-size="14" font-weight="bold" fill="#131722" text-anchor="start" textLength="35.8" lengthAdjust="spacingAndGlyphs">Company</text>
<text x="73.60" y="23.8" font-family="Liberation Sans, sans-serif" font-size="14" font-weight="bold" fill="#131722" text-anchor="start" textLength="20.1" lengthAdjust="spacingAndGlyphs">(The)</text>
<text x="73.80" y="23.8" font-family="Liberation Sans, sans-serif" font-size="14" font-weight="bold" fill="#131722" text-anchor="start" textLength="20.1" lengthAdjust="spacingAndGlyphs">(The)</text>
<text x="95.60" y="23.8" font-family="Liberation Sans, sans-serif" font-size="14" font-weight="bold" fill="#131722" text-anchor="start" textLength="2.3" lengthAdjust="spacingAndGlyphs">·</text>
<text x="95.80" y="23.8" font-family="Liberation Sans, sans-serif" font-size="14" font-weight="bold" fill="#131722" text-anchor="start" textLength="2.3" lengthAdjust="spacingAndGlyphs">·</text>
<text x="100.20" y="23.8" font-family="Liberation Sans, sans-serif" font-size="14" font-weight="bold" fill="#131722" text-anchor="start" textLength="11.2" lengthAdjust="spacingAndGlyphs">1D</text>
<text x="100.40" y="23.8" font-family="Liberation Sans, sans-serif" font-size="14" font-weight="bold" fill="#131722" text-anchor="start" textLength="11.2" lengthAdjust="spacingAndGlyphs">1D</text>
<text x="113.50" y="23.8" font-family="Liberation Sans, sans-serif" font-size="14" font-weight="bold" fill="#131722" text-anchor="start" textLength="2.3" lengthAdjust="spacingAndGlyphs">·</text>
<text x="113.70" y="23.8" font-family="Liberation Sans, sans-serif" font-size="14" font-weight="bold" fill="#131722" text-anchor="start" textLength="2.3" lengthAdjust="spacingAndGlyphs">·</text>
<text x="117.90" y="23.8" font-family="Liberation Sans, sans-serif" font-size="14" font-weight="bold" fill="#131722" text-anchor="start" textLength="20.5" lengthAdjust="spacingAndGlyphs">NYSE</text>
<text x="118.10" y="23.8" font-family="Liberation Sans, sans-serif" font-size="14" font-weight="bold" fill="#131722" text-anchor="start" textLength="20.5" lengthAdjust="spacingAndGlyphs">NYSE</text>
<text x="5.46" y="43.2" font-family="Liberation Sans, sans-serif" font-size="14" font-weight="normal" fill="#131722" text-anchor="start" textLength="15.34" lengthAdjust="spacingAndGlyphs">PVP</text>
<text x="5.86" y="43.2" font-family="Liberation Sans, sans-serif" font-size="14" font-weight="normal" fill="#131722" text-anchor="start" textLength="15.34" lengthAdjust="spacingAndGlyphs">PVP</text>
<text x="23.60" y="43.2" font-family="Liberation Sans, sans-serif" font-size="14" font-weight="normal" fill="#131722" text-anchor="start" textLength="10.1" lengthAdjust="spacingAndGlyphs">(1,</text>
<text x="24.00" y="43.2" font-family="Liberation Sans, sans-serif" font-size="14" font-weight="normal" fill="#131722" text-anchor="start" textLength="10.1" lengthAdjust="spacingAndGlyphs">(1,</text>
<text x="35.20" y="43.2" font-family="Liberation Sans, sans-serif" font-size="14" font-weight="normal" fill="#131722" text-anchor="start" textLength="27.0" lengthAdjust="spacingAndGlyphs">Month,</text>
<text x="35.60" y="43.2" font-family="Liberation Sans, sans-serif" font-size="14" font-weight="normal" fill="#131722" text-anchor="start" textLength="27.0" lengthAdjust="spacingAndGlyphs">Month,</text>
<text x="65.50" y="43.2" font-family="Liberation Sans, sans-serif" font-size="14" font-weight="normal" fill="#131722" text-anchor="start" textLength="40.1" lengthAdjust="spacingAndGlyphs">Up/Down)</text>
<text x="65.90" y="43.2" font-family="Liberation Sans, sans-serif" font-size="14" font-weight="normal" fill="#131722" text-anchor="start" textLength="40.1" lengthAdjust="spacingAndGlyphs">Up/Down)</text>
<text x="5.46" y="62.3" font-family="Liberation Sans, sans-serif" font-size="14" font-weight="normal" fill="#131722" text-anchor="start" textLength="12.14" lengthAdjust="spacingAndGlyphs">Vol</text>
<text x="5.86" y="62.3" font-family="Liberation Sans, sans-serif" font-size="14" font-weight="normal" fill="#131722" text-anchor="start" textLength="12.14" lengthAdjust="spacingAndGlyphs">Vol</text>
<text x="4.80" y="81.5" font-family="Liberation Sans, sans-serif" font-size="14" font-weight="normal" fill="#131722" text-anchor="start" textLength="17.9" lengthAdjust="spacingAndGlyphs">SMA</text>
<text x="5.20" y="81.5" font-family="Liberation Sans, sans-serif" font-size="14" font-weight="normal" fill="#131722" text-anchor="start" textLength="17.9" lengthAdjust="spacingAndGlyphs">SMA</text>
<text x="26.10" y="81.5" font-family="Liberation Sans, sans-serif" font-size="14" font-weight="normal" fill="#131722" text-anchor="start" textLength="17.2" lengthAdjust="spacingAndGlyphs">(200,</text>
<text x="26.50" y="81.5" font-family="Liberation Sans, sans-serif" font-size="14" font-weight="normal" fill="#131722" text-anchor="start" textLength="17.2" lengthAdjust="spacingAndGlyphs">(200,</text>
<text x="46.50" y="81.5" font-family="Liberation Sans, sans-serif" font-size="14" font-weight="normal" fill="#131722" text-anchor="start" textLength="23.2" lengthAdjust="spacingAndGlyphs">close)</text>
<text x="46.90" y="81.5" font-family="Liberation Sans, sans-serif" font-size="14" font-weight="normal" fill="#131722" text-anchor="start" textLength="23.2" lengthAdjust="spacingAndGlyphs">close)</text>
<text x="901.82" y="74.3" font-family="Liberation Sans, sans-serif" font-size="14" font-weight="normal" fill="#131722" text-anchor="start" textLength="23.8" lengthAdjust="spacingAndGlyphs">240.00</text>
<text x="902.18" y="74.3" font-family="Liberation Sans, sans-serif" font-size="14" font-weight="normal" fill="#131722" text-anchor="start" textLength="23.8" lengthAdjust="spacingAndGlyphs">240.00</text>
<text x="901.82" y="138.62" font-family="Liberation Sans, sans-serif" font-size="14" font-weight="normal" fill="#131722" text-anchor="start" textLength="23.8" lengthAdjust="spacingAndGlyphs">230.00</text>
<text x="902.18" y="138.62" font-family="Liberation Sans, sans-serif" font-size="14" font-weight="normal" fill="#131722" text-anchor="start" textLength="23.8" lengthAdjust="spacingAndGlyphs">230.00</text>
<text x="901.82" y="202.94000000000003" font-family="Liberation Sans, sans-serif" font-size="14" font-weight="normal" fill="#131722" text-anchor="start" textLength="23.8" lengthAdjust="spacingAndGlyphs">220.00</text>
<text x="902.18" y="202.94000000000003" font-family="Liberation Sans, sans-serif" font-size="14" font-weight="normal" fill="#131722" text-anchor="start" textLength="23.8" lengthAdjust="spacingAndGlyphs">220.00</text>
<text x="901.82" y="267.26000000000005" font-family="Liberation Sans, sans-serif" font-size="14" font-weight="normal" fill="#131722" text-anchor="start" textLength="23.8" lengthAdjust="spacingAndGlyphs">210.00</text>
<text x="902.18" y="267.26000000000005" font-family="Liberation Sans, sans-serif" font-size="14" font-weight="normal" fill="#131722" text-anchor="start" textLength="23.8" lengthAdjust="spacingAndGlyphs">210.00</text>
<text x="901.82" y="395.90000000000003" font-family="Liberation Sans, sans-serif" font-size="14" font-weight="normal" fill="#131722" text-anchor="start" textLength="23.8" lengthAdjust="spacingAndGlyphs">190.00</text>
<text x="902.18" y="395.90000000000003" font-family="Liberation Sans, sans-serif" font-size="14" font-weight="normal" fill="#131722" text-anchor="start" textLength="23.8" lengthAdjust="spacingAndGlyphs">190.00</text>
<text x="901.82" y="460.22" font-family="Liberation Sans, sans-serif" font-size="14" font-weight="normal" fill="#131722" text-anchor="start" textLength="23.8" lengthAdjust="spacingAndGlyphs">180.00</text>
<text x="902.18" y="460.22" font-family="Liberation Sans, sans-serif" font-size="14" font-weight="normal" fill="#131722" text-anchor="start" textLength="23.8" lengthAdjust="spacingAndGlyphs">180.00</text>
<text x="60.52" y="538" font-family="Liberation Sans, sans-serif" font-size="13.4" font-weight="normal" fill="#131722" text-anchor="middle" textLength="13.8" lengthAdjust="spacingAndGlyphs">Aug</text>
<text x="61.08" y="538" font-family="Liberation Sans, sans-serif" font-size="13.4" font-weight="normal" fill="#131722" text-anchor="middle" textLength="13.8" lengthAdjust="spacingAndGlyphs">Aug</text>
<text x="238.52" y="538" font-family="Liberation Sans, sans-serif" font-size="13.4" font-weight="normal" fill="#131722" text-anchor="middle" textLength="13.8" lengthAdjust="spacingAndGlyphs">Sep</text>
<text x="239.08" y="538" font-family="Liberation Sans, sans-serif" font-size="13.4" font-weight="normal" fill="#131722" text-anchor="middle" textLength="13.8" lengthAdjust="spacingAndGlyphs">Sep</text>
<text x="416.51" y="538" font-family="Liberation Sans, sans-serif" font-size="13.4" font-weight="normal" fill="#131722" text-anchor="middle" textLength="13.8" lengthAdjust="spacingAndGlyphs">Oct</text>
<text x="417.07" y="538" font-family="Liberation Sans, sans-serif" font-size="13.4" font-weight="normal" fill="#131722" text-anchor="middle" textLength="13.8" lengthAdjust="spacingAndGlyphs">Oct</text>
<text x="611.46" y="538" font-family="Liberation Sans, sans-serif" font-size="13.4" font-weight="normal" fill="#131722" text-anchor="middle" textLength="13.8" lengthAdjust="spacingAndGlyphs">Nov</text>
<text x="612.02" y="538" font-family="Liberation Sans, sans-serif" font-size="13.4" font-weight="normal" fill="#131722" text-anchor="middle" textLength="13.8" lengthAdjust="spacingAndGlyphs">Nov</text>
<text x="772.50" y="538" font-family="Liberation Sans, sans-serif" font-size="13.4" font-weight="normal" fill="#131722" text-anchor="middle" textLength="13.8" lengthAdjust="spacingAndGlyphs">Dec</text>
<text x="773.06" y="538" font-family="Liberation Sans, sans-serif" font-size="13.4" font-weight="normal" fill="#131722" text-anchor="middle" textLength="13.8" lengthAdjust="spacingAndGlyphs">Dec</text>
<rect x="898.3" y="4.5" width="30.8" height="30" rx="3" ry="4.5" fill="#ffffff" stroke="#ececec" stroke-width="1"/>
<text x="904.02" y="25.0" font-family="Liberation Sans, sans-serif" font-size="14" font-weight="normal" fill="#131722" text-anchor="start" textLength="14.2" lengthAdjust="spacingAndGlyphs">USD</text>
<text x="904.58" y="25.0" font-family="Liberation Sans, sans-serif" font-size="14" font-weight="normal" fill="#131722" text-anchor="start" textLength="14.2" lengthAdjust="spacingAndGlyphs">USD</text>
<path d="M880.6,267 H895.6 V285.9 H880.6 Q878,285.9 878,283.3 V269.6 Q878,267 880.6,267 Z" fill="#ff8f1c"/>
<text x="881.22" y="281.8" font-family="Liberation Sans, sans-serif" font-size="14" font-weight="normal" fill="#ffffff" text-anchor="start" textLength="11.0" lengthAdjust="spacingAndGlyphs">Pre</text>
<text x="881.78" y="281.8" font-family="Liberation Sans, sans-serif" font-size="14" font-weight="normal" fill="#ffffff" text-anchor="start" textLength="11.0" lengthAdjust="spacingAndGlyphs">Pre</text>
<path d="M896.2,267 H927 Q929.1,267 929.1,269.1 V283.9 Q929.1,286.0 927,286.0 H896.2 Z" fill="#ff8f1c"/>
<text x="901.62" y="281.6" font-family="Liberation Sans, sans-serif" font-size="14" font-weight="normal" fill="#ffffff" text-anchor="start" textLength="23.5" lengthAdjust="spacingAndGlyphs">202.26</text>
<text x="902.18" y="281.6" font-family="Liberation Sans, sans-serif" font-size="14" font-weight="normal" fill="#ffffff" text-anchor="start" textLength="23.5" lengthAdjust="spacingAndGlyphs">202.26</text>
<path d="M896.2,286.3 H927 Q929.1,286.3 929.1,288.40000000000003 V303.29999999999995 Q929.1,305.4 927,305.4 H896.2 Z" fill="#ff9800"/>
<text x="901.62" y="300.95000000000005" font-family="Liberation Sans, sans-serif" font-size="14" font-weight="normal" fill="#131722" text-anchor="start" textLength="23.5" lengthAdjust="spacingAndGlyphs">202.20</text>
<text x="902.18" y="300.95000000000005" font-family="Liberation Sans, sans-serif" font-size="14" font-weight="normal" fill="#131722" text-anchor="start" textLength="23.5" lengthAdjust="spacingAndGlyphs">202.20</text>
<path d="M896.2,305.5 H927 Q929.1,305.5 929.1,307.6 V322.9 Q929.1,325.0 927,325.0 H896.2 Z" fill="#089981"/>
<text x="901.62" y="320.35" font-family="Liberation Sans, sans-serif" font-size="14" font-weight="normal" fill="#ffffff" text-anchor="start" textLength="23.5" lengthAdjust="spacingAndGlyphs">201.89</text>
<text x="902.18" y="320.35" font-family="Liberation Sans, sans-serif" font-size="14" font-weight="normal" fill="#ffffff" text-anchor="start" textLength="23.5" lengthAdjust="spacingAndGlyphs">201.89</text>
<path d="M896.2,325.05 H927 Q929.1,325.05 929.1,327.15000000000003 V341.79999999999995 Q929.1,343.9 927,343.9 H896.2 Z" fill="#3c6be8"/>
<text x="901.62" y="339.57500000000005" font-family="Liberation Sans, sans-serif" font-size="14" font-weight="normal" fill="#ffffff" text-anchor="start" textLength="23.5" lengthAdjust="spacingAndGlyphs">201.43</text>
<text x="902.18" y="339.57500000000005" font-family="Liberation Sans, sans-serif" font-size="14" font-weight="normal" fill="#ffffff" text-anchor="start" textLength="23.5" lengthAdjust="spacingAndGlyphs">201.43</text>
<path d="M896.3,469.8 H925.6 Q927.8,469.8 927.8,472 V486.6 Q927.8,488.8 925.6,488.8 H896.3 Z" fill="#26a69a"/>
<text x="901.02" y="484.1" font-family="Liberation Sans, sans-serif" font-size="14" font-weight="normal" fill="#ffffff" text-anchor="start" textLength="24.2" lengthAdjust="spacingAndGlyphs">6.86M</text>
<text x="901.58" y="484.1" font-family="Liberation Sans, sans-serif" font-size="14" font-weight="normal" fill="#ffffff" text-anchor="start" textLength="24.2" lengthAdjust="spacingAndGlyphs">6.86M</text>
</svg>
</body></html>
